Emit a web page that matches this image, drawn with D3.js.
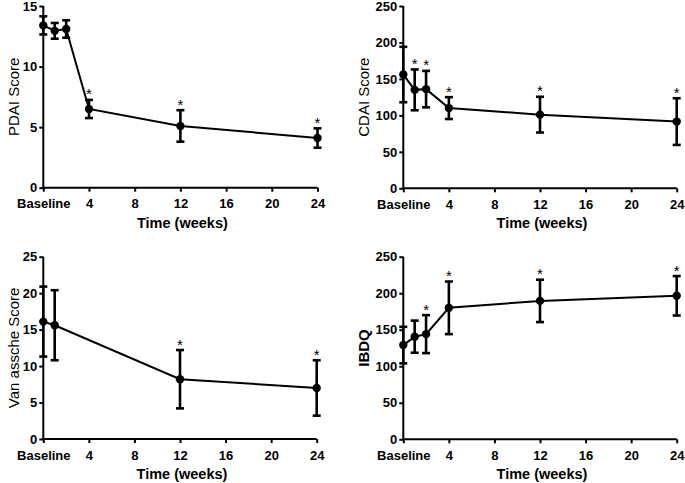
<!DOCTYPE html>
<html><head><meta charset="utf-8">
<script src="https://cdn.jsdelivr.net/npm/d3@7"></script>
<style>body{margin:0;background:#fff}svg{display:block}</style>
</head><body>
<svg id="c" width="685" height="483"></svg>
<script>
const xTicks = [0, 4, 8, 12, 16, 20, 24];
const xTickLabels = ["Baseline", "4", "8", "12", "16", "20", "24"];

const pdaiWeeks = [0, 1, 2, 4, 12, 24];
const pdaiMean  = [13.4, 12.95, 13.1, 6.5, 5.1, 4.1];
const pdaiErr   = [0.75, 0.65, 0.72, 0.75, 1.3, 0.8];
const pdaiSig   = [false, false, false, true, true, true];

const cdaiWeeks = [0, 1, 2, 4, 12, 24];
const cdaiMean  = [156, 135, 136, 110, 101, 91.5];
const cdaiErr   = [38, 28, 25, 15, 24.5, 32];
const cdaiSig   = [false, true, true, true, true, true];

const vaWeeks = [0, 1, 12, 24];
const vaMean  = [16.1, 15.6, 8.2, 7.0];
const vaErr   = [4.8, 4.8, 4.0, 3.8];
const vaSig   = [false, false, true, true];

const ibdqWeeks = [0, 1, 2, 4, 12, 24];
const ibdqMean  = [129, 140.5, 144, 180, 189.5, 196.5];
const ibdqErr   = [25, 22, 26, 36, 29, 27];
const ibdqSig   = [false, false, true, true, true, true];

const panels = [
  {weeks: pdaiWeeks, mean: pdaiMean, err: pdaiErr, sig: pdaiSig, yMax: 15, yTicks: [0,5,10,15], title: "PDAI Score", bold: false,
   x0: 43.3, x1: 317.5, yTop: 6, yBot: 187.7, titleX: 13},
  {weeks: cdaiWeeks, mean: cdaiMean, err: cdaiErr, sig: cdaiSig, yMax: 250, yTicks: [0,50,100,150,200,250], title: "CDAI Score", bold: false,
   x0: 403.3, x1: 676.7, yTop: 6, yBot: 188.3, titleX: 363},
  {weeks: vaWeeks, mean: vaMean, err: vaErr, sig: vaSig, yMax: 25, yTicks: [0,5,10,15,20,25], title: "Van assche Score", bold: false,
   x0: 43.3, x1: 316.7, yTop: 256.7, yBot: 439, titleX: 13},
  {weeks: ibdqWeeks, mean: ibdqMean, err: ibdqErr, sig: ibdqSig, yMax: 250, yTicks: [0,50,100,150,200,250], title: "IBDQ", bold: true,
   x0: 403.3, x1: 676.7, yTop: 256.7, yBot: 439.3, titleX: 363}
];

const svg = d3.select("#c");
const font = "Liberation Sans, Arial, sans-serif";

panels.forEach(p => {
  const x = d3.scaleLinear().domain([0, 24]).range([p.x0, p.x1]);
  const y = d3.scaleLinear().domain([0, p.yMax]).range([p.yBot, p.yTop]);
  const g = svg.append("g");

  const yAxis = g.append("g").attr("transform", `translate(${p.x0},0)`)
    .call(d3.axisLeft(y).tickValues(p.yTicks).tickSize(4).tickPadding(2));
  const xAxis = g.append("g").attr("transform", `translate(0,${p.yBot})`)
    .call(d3.axisBottom(x).tickValues(xTicks).tickSize(4).tickPadding(7.5)
      .tickFormat((d, i) => xTickLabels[i]));
  [yAxis, xAxis].forEach(a => {
    a.select(".domain").attr("stroke", "#000").attr("stroke-width", 2);
    a.selectAll(".tick line").attr("stroke", "#000").attr("stroke-width", 2);
    a.selectAll("text").attr("fill", "#000").style("font-family", font)
      .style("font-size", "13px").style("font-weight", "bold");
  });
  xAxis.select(".domain").attr("d", `M${p.x0},0H${p.x1}`);
  yAxis.select(".domain").attr("d", `M0,${p.yBot}V${p.yTop}`);

  // axis titles
  g.append("text").attr("transform", `translate(${p.titleX},${(p.yTop + p.yBot) / 2}) rotate(-90)`)
    .attr("text-anchor", "middle").attr("dominant-baseline", "central")
    .attr("fill", "#000")
    .style("font-family", font).style("font-size", "15px")
    .style("font-weight", p.bold ? "bold" : "normal").text(p.title);
  g.append("text").attr("x", (p.x0 + p.x1) / 2 + 2).attr("y", p.yBot + 40)
    .attr("text-anchor", "middle").attr("fill", "#000").style("font-family", font)
    .style("font-size", "14.5px").style("font-weight", "bold").text("Time (weeks)");

  const pts = p.weeks.map((w, i) => ({w, m: p.mean[i], e: p.err[i], s: p.sig[i]}));

  g.append("path").datum(pts)
    .attr("d", d3.line().x(d => x(d.w)).y(d => y(d.m)))
    .attr("fill", "none").attr("stroke", "#000").attr("stroke-width", 2);

  const eb = g.selectAll(".eb").data(pts).enter().append("g");
  eb.append("line").attr("x1", d => x(d.w)).attr("x2", d => x(d.w))
    .attr("y1", d => y(d.m - d.e)).attr("y2", d => y(d.m + d.e))
    .attr("stroke", "#000").attr("stroke-width", 2.6);
  eb.append("line").attr("x1", d => x(d.w) - 4).attr("x2", d => x(d.w) + 4)
    .attr("y1", d => y(d.m + d.e)).attr("y2", d => y(d.m + d.e))
    .attr("stroke", "#000").attr("stroke-width", 2.6);
  eb.append("line").attr("x1", d => x(d.w) - 4).attr("x2", d => x(d.w) + 4)
    .attr("y1", d => y(d.m - d.e)).attr("y2", d => y(d.m - d.e))
    .attr("stroke", "#000").attr("stroke-width", 2.6);
  eb.append("circle").attr("cx", d => x(d.w)).attr("cy", d => y(d.m)).attr("r", 4.2).attr("fill", "#000");

  g.selectAll(".star").data(pts.filter(d => d.s)).enter().append("text")
    .attr("x", d => x(d.w)).attr("y", d => y(d.m + d.e) - 0.5)
    .attr("text-anchor", "middle").attr("fill", "#000")
    .style("font-family", font).style("font-size", "15px")
    .text("*");
});
</script>
</body></html>
